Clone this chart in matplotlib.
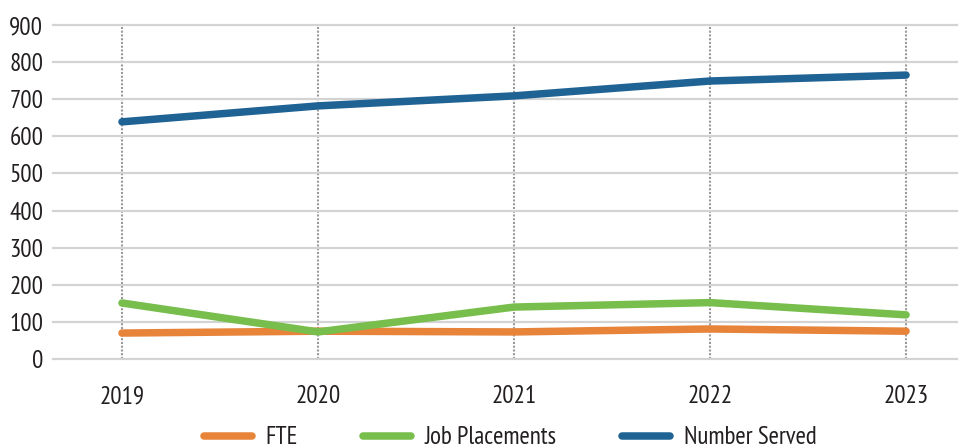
import matplotlib.pyplot as plt

years = ['2019', '2020', '2021', '2022', '2023']
fte = [70, 75, 73, 81, 75]
job_placements = [151, 73, 140, 152, 119]
number_served = [639, 682, 709, 749, 765]
y_ticks = [0, 100, 200, 300, 400, 500, 600, 700, 800, 900]

plt.rcParams['font.family'] = ['PT Sans Narrow', 'Liberation Sans Narrow', 'DejaVu Sans']

text_color = '#231f20'

fig = plt.figure(figsize=(9.58, 4.46), dpi=100)
ax = fig.add_axes([0.0553, 0.195, 0.9447, 0.749])

x = list(range(len(years)))
series = [
    ('FTE', fte, '#e8833a'),
    ('Job Placements', job_placements, '#78be4d'),
    ('Number Served', number_served, '#1f6294'),
]
for label, vals, col in series:
    ax.plot(x, vals, color=col, lw=5.4, solid_capstyle='round',
            solid_joinstyle='round', label=label, zorder=3)

ax.set_xlim(-0.352, 4.265)
ax.set_ylim(0, 900)
ax.set_xticks(x)
ax.set_xticklabels(years)
ax.set_yticks(y_ticks)

ax.yaxis.grid(True, color='#d3d3d3', lw=1.6)
ax.xaxis.grid(True, color='#9a9a9a', lw=1.5, linestyle=(0, (1.0, 0.8)))
for gl in ax.get_ygridlines():
    gl.set_clip_on(False)
ax.set_axisbelow(True)

for s in ax.spines.values():
    s.set_visible(False)
ax.tick_params(axis='both', length=0, labelsize=18, labelcolor=text_color)
ax.tick_params(axis='y', pad=7)
ax.tick_params(axis='x', pad=19)

fig.legend(loc='center left', bbox_to_anchor=(0.213, 0.018), ncol=3,
           frameon=False, fontsize=18, handlelength=1.92, handletextpad=0.55,
           columnspacing=2.6, borderpad=0, borderaxespad=0,
           labelcolor=text_color)

fig.savefig('out.png', dpi=100)
